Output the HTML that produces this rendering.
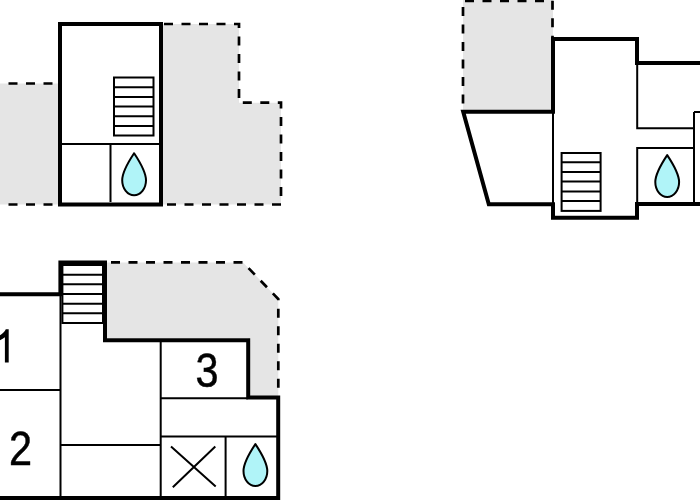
<!DOCTYPE html>
<html>
<head>
<meta charset="utf-8">
<style>
html,body{margin:0;padding:0;background:#fff;width:700px;height:500px;overflow:hidden;}
svg{display:block;position:absolute;left:0;top:0;}
text{font-family:"Liberation Sans",sans-serif;}
</style>
</head>
<body>
<svg width="700" height="500" viewBox="0 0 700 500">
<defs>
  <path id="drop" d="M0,-27 C-5,-19.5 -11.9,-9 -11.9,0 A11.9,15 0 0 0 11.9,0 C11.9,-9 5,-19.5 0,-27 Z"/>
</defs>
<g>
<rect x="-5" y="-5" width="710" height="510" fill="#fff"/>
<g fill="#e5e5e5" stroke="none">
  <!-- top-left -->
  <polygon points="0,83.5 58,83.5 58,204.5 0,204.5"/>
  <polygon points="163,24 239,24 239,102.7 281,102.7 281,204.5 163,204.5"/>
  <!-- top-right -->
  <polygon points="463,0 553,0 553,110 463,110"/>
  <!-- bottom-left -->
  <polygon points="107,262.4 243,262.4 278.3,299 278.3,396 248,396 248,338 107,338"/>
</g>

<g fill="none" stroke="#000" stroke-width="2.7" stroke-dasharray="9 8.5">
  <path d="M8.5,83.5 H58"/>
  <path d="M8.5,204.5 H58"/>
  <path d="M164,24 H239 V102.7 H281 V204.5 H163"/>
  <path d="M465,0.8 H552.5 V37"/>
  <path d="M463,7 V104"/>
  <path d="M111,262.4 H243 L278.3,299 V396"/>
</g>

<g fill="none" stroke="#000" stroke-width="4" stroke-linejoin="miter" stroke-miterlimit="10">
  <!-- top-left -->
  <rect x="60" y="24" width="101" height="180.5"/>
  <!-- top-right -->
  <path d="M700,63 H637 V39 H553 V111.7 H463.2 L488.8,204.3 H553 V217.7 H637 V204 H700"/>
  <!-- bottom-left -->
  <path d="M0,294.2 H60.4 V262.4 H105 V340.3 H248.2 V397.6 H278.2 V498 H0"/>
</g>

<g fill="none" stroke="#000" stroke-width="2">
  <!-- top-left -->
  <path d="M62,144 H159 M110.5,144 V202"/>
  <rect x="114" y="77.5" width="39.5" height="58"/>
  <path d="M114,87.2 H153.5 M114,96.9 H153.5 M114,106.5 H153.5 M114,116.2 H153.5 M114,125.9 H153.5"/>
  <!-- top-right -->
  <path d="M553,113 V204 M637.2,63 V128.2 H694 M694,112 H700 M694,112 V204"/>
  <path d="M637.2,204 V148 H694"/>
  <rect x="561.6" y="153" width="39" height="57.9"/>
  <path d="M561.6,162.3 H600.6 M561.6,171.9 H600.6 M561.6,181.6 H600.6 M561.6,191.4 H600.6 M561.6,201.1 H600.6"/>
  <!-- bottom-left -->
  <path d="M60.5,296 V498 M0,389.9 H60.5 M160.7,340 V498 M160.7,398.3 H248 M60.5,445.1 H160.7 M160.7,436.5 H278 M225.6,436.5 V498"/>
  <rect x="62.4" y="265" width="40.6" height="58"/>
  <path d="M62.4,274.7 H103 M62.4,284.3 H103 M62.4,294 H103 M62.4,303.7 H103 M62.4,313.3 H103"/>
  <path d="M171,446.5 L215.7,486.5 M215.3,446.5 L172.8,487.2"/>
</g>

<g fill="#b0f4f8" stroke="#000" stroke-width="2" stroke-linejoin="round">
  <use href="#drop" x="134.1" y="180.2"/>
  <use href="#drop" x="667.2" y="182.1"/>
  <use href="#drop" x="255.4" y="471.1"/>
</g>

<path fill="#000" d="M8.7,362.6 V329.2 H5.8 C4.5,332 1.5,334.5 -2,336.5 V341 C0.5,340 3.2,338.6 4.9,337.3 V362.6 Z"/>
<g fill="#000" stroke="#000" stroke-width="0.5" font-size="48" opacity="0.999">
  <text transform="translate(9,465) scale(0.865,1)">2</text>
  <text transform="translate(195.5,387) scale(0.865,1)">3</text>
</g>
</g>
</svg>
</body>
</html>
